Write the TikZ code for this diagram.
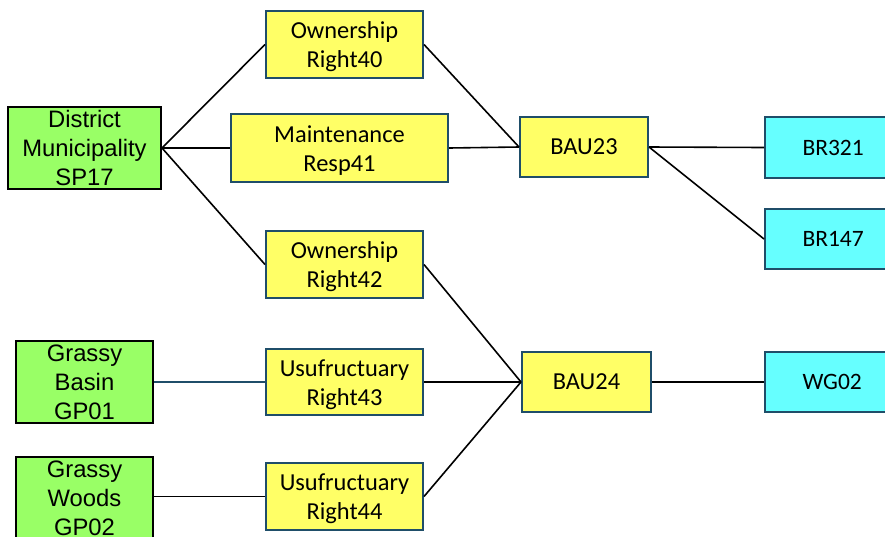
\documentclass[tikz,border=0pt]{standalone}
\usepackage{fontspec}
\setmainfont{Carlito}
\newfontfamily\arialf{Liberation Sans}
\definecolor{gfill}{HTML}{99FF66}
\definecolor{yfill}{HTML}{FFFF66}
\definecolor{cfill}{HTML}{66FFFF}
\definecolor{bord}{HTML}{1F4E69}
\newcommand{\toprule}{\rule{0pt}{22pt}}
\begin{document}
\begin{tikzpicture}[x=1pt,y=-1pt,
  gbox/.style={draw=black,line width=2pt,fill=gfill,inner sep=0pt,align=center,
    font=\arialf\fontsize{23.8}{29}\selectfont},
  ybox/.style={draw=bord,line width=2pt,fill=yfill,inner sep=0pt,align=center,
    font=\fontsize{24.4}{29}\selectfont},
  cbox/.style={draw=bord,line width=2pt,fill=cfill,inner sep=0pt,
    font=\fontsize{23.5}{29}\selectfont},
  conn/.style={line width=1.6pt,black},
  conn2/.style={line width=1.6pt,bord}]
\useasboundingbox (0,0) rectangle (885,536);
\begin{scope}
\clip (0,0) rectangle (885,536);
\node[gbox,minimum width=153pt,minimum height=82pt] (sp17) at (84.5,148) {District\\Municipality\\SP17};
\node[gbox,minimum width=137pt,minimum height=82pt] (gp01) at (84.5,382) {Grassy\\Basin\\GP01};
\node[gbox,minimum width=137pt,minimum height=82pt] (gp02) at (84.5,498) {Grassy\\Woods\\GP02};
\node[ybox,minimum width=157pt,minimum height=67pt] (r40) at (344.5,44.5) {\toprule Ownership\\Right40};
\node[ybox,minimum width=217pt,minimum height=68pt] (r41) at (339.5,148) {\toprule Maintenance\\Resp41};
\node[ybox,minimum width=157pt,minimum height=67pt] (r42) at (344.5,264.5) {\toprule Ownership\\Right42};
\node[ybox,minimum width=157pt,minimum height=66pt] (r43) at (344.5,382) {\toprule Usufructuary\\Right43};
\node[ybox,minimum width=157pt,minimum height=67pt] (r44) at (344.5,496.5) {\toprule Usufructuary\\Right44};
\node[ybox,minimum width=128pt,minimum height=60pt] (bau23) at (584,147) {BAU23};
\node[ybox,minimum width=129pt,minimum height=60pt] (bau24) at (586.5,382) {BAU24};
\node[cbox,minimum width=130pt,minimum height=61pt,anchor=west,text width=121pt,align=left] (br321) at (764,147.5) {\hspace*{33pt}BR321};
\node[cbox,minimum width=130pt,minimum height=60pt,anchor=west,text width=121pt,align=left] (br147) at (764,239) {\hspace*{33pt}BR147};
\node[cbox,minimum width=130pt,minimum height=60pt,anchor=west,text width=121pt,align=left] (wg02) at (764,382) {\hspace*{33pt}WG02};
\end{scope}
\draw[conn] (sp17.east) -- (r40.west);
\draw[conn] (sp17.east) -- (r41.west);
\draw[conn] (sp17.east) -- (r42.west);
\draw[conn] (r40.east) -- (bau23.west);
\draw[conn] (r41.east) -- (bau23.west);
\draw[conn] (bau23.east) -- (br321.west);
\draw[conn] (bau23.east) -- (br147.west);
\draw[conn] (r42.east) -- (bau24.west);
\draw[conn] (r43.east) -- (bau24.west);
\draw[conn] (r44.east) -- (bau24.west);
\draw[conn] (bau24.east) -- (wg02.west);
\draw[conn2] (gp01.east) -- (r43.west);
\draw[conn] (gp02.east |- r44.west) -- (r44.west);
\end{tikzpicture}
\end{document}
